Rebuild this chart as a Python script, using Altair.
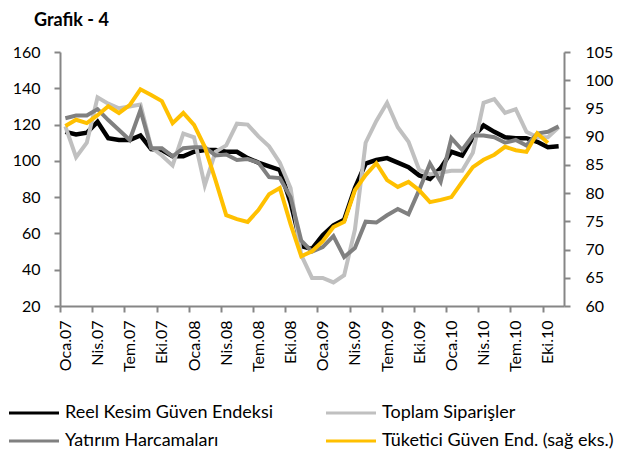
import json
import altair as alt
import pandas as pd

FONT = "Lato"

tick_labels = ["Oca.07", "Nis.07", "Tem.07", "Eki.07", "Oca.08", "Nis.08", "Tem.08", "Eki.08",
               "Oca.09", "Nis.09", "Tem.09", "Eki.09", "Oca.10", "Nis.10", "Tem.10", "Eki.10"]

S_REEL = "Reel Kesim Güven Endeksi"
S_TOP = "Toplam Siparişler"
S_YAT = "Yatırım Harcamaları"
S_TUK = "Tüketici Güven End. (sağ eks.)"

# monthly values, Jan 2007 onwards
reel = [116, 114.5, 115.5, 121.5, 112.5, 111.5, 111.5, 114, 106.5, 106, 102.5, 102.5,
        105, 106, 106, 105, 105, 101.5, 99, 97, 95, 77, 53, 51.5,
        59, 64.5, 67.5, 85, 98.5, 100.5, 101.5, 99, 96.5, 92, 90, 96,
        105, 103, 113, 119.5, 116, 113, 112.5, 112.5, 110.5, 107.5, 108]
toplam = [119, 102, 110, 135, 131.5, 129, 130, 131, 107.5, 103, 97.5, 115,
          113, 86.5, 105, 108.5, 120.5, 120, 113.5, 108, 99, 85, 48, 35.5,
          35.5, 33, 37, 62, 110, 122, 132, 118.5, 110.5, 95, 92.5, 93.5,
          94.5, 94.5, 104.5, 132, 134, 126.5, 128.5, 116, 113, 113, 118.5]
yatirim = [123.5, 125, 125, 128.5, 122.5, 117, 111.5, 128, 107, 107, 102.5, 107,
           107.5, 107.5, 103, 103.5, 100.5, 101, 99, 91, 90.5, 80, 56, 50,
           52.5, 58.5, 47, 52, 66.5, 66, 70, 73.5, 70.5, 84, 98.5, 88.5,
           112.5, 106, 114, 114, 113, 110, 111.5, 108.5, 115, 116, 119]
tuketici = [91.9, 93.0, 92.4, 93.8, 95.4, 94.2, 95.6, 98.4, 97.4, 96.3, 92.4, 94.2,
            92.1, 88.2, 82.3, 76.1, 75.4, 74.9, 77.0, 79.8, 80.9, 74.5, 68.8, 69.7,
            71.5, 74.0, 74.9, 80.5, 83.2, 85.3, 82.3, 81.1, 82.0, 80.5, 78.4, 78.8,
            79.3, 82.0, 84.6, 85.9, 86.8, 88.2, 87.6, 87.3, 90.6, 88.9]

rows = []
for name, vals in [(S_REEL, reel), (S_TOP, toplam), (S_YAT, yatirim), (S_TUK, tuketici)]:
    for i, v in enumerate(vals):
        rows.append({"i": i, "v": v, "s": name})
df = pd.DataFrame(rows)

N = 47
W, H = 504, 254
half = W / N / 2

label_expr = json.dumps(tick_labels) + "[round(datum.value / 3)]"

x_enc = alt.X(
    "i:Q",
    scale=alt.Scale(domain=[-0.5, N - 0.5], nice=False, zero=False),
    axis=alt.Axis(values=list(range(0, 46, 3)), tickOffset=-half, labelOffset=half,
                  labelExpr=label_expr, labelAngle=270, labelAlign="right",
                  labelBaseline="middle", labelPadding=8, labelFontSize=16, title=None),
)

color_enc = alt.Color(
    "s:N",
    scale=alt.Scale(domain=[S_REEL, S_YAT, S_TOP, S_TUK],
                    range=["#000000", "#808080", "#c0c0c0", "#ffc000"]),
    legend=alt.Legend(title=None, orient="none", legendX=-35, legendY=352, columns=2,
                      symbolType="M-5,0H5", symbolSize=100, symbolStrokeWidth=3,
                      labelFont=FONT, labelFontSize=18, labelColor="#000000",
                      labelOffset=22, columnPadding=46, rowPadding=10,
                      labelLimit=400),
)

y_left = alt.Y("v:Q", scale=alt.Scale(domain=[20, 160], nice=False, zero=False),
               axis=alt.Axis(values=list(range(20, 161, 20)), title=None, labelPadding=14))
y_right = alt.Y("v:Q", scale=alt.Scale(domain=[60, 105], nice=False, zero=False),
                axis=alt.Axis(values=list(range(60, 106, 5)), title=None, orient="right",
                              labelPadding=15))


def series_line(name, y, width=4):
    return alt.Chart().mark_line(strokeWidth=width, strokeJoin="miter").encode(
        x=x_enc, y=y, color=color_enc
    ).transform_filter(alt.datum.s == name)


left = alt.layer(series_line(S_REEL, y_left, 4.5), series_line(S_TOP, y_left),
                 series_line(S_YAT, y_left))
right = series_line(S_TUK, y_right)

chart = alt.layer(left, right, data=df).resolve_scale(y="independent").properties(
    width=W, height=H,
    title=alt.TitleParams("Grafik - 4", anchor="start", frame="group", dx=-26, offset=14,
                          font=FONT, fontSize=18, fontWeight="bold", color="#000000"),
    autosize=alt.AutoSizeParams(type="none"),
    padding={"left": 52, "top": 44, "right": 60, "bottom": 155},
).configure_view(stroke=None).configure_axis(
    domainColor="#868686", tickColor="#868686", domainWidth=2, tickWidth=2, tickSize=6,
    labelColor="#000000", labelFont=FONT, labelFontSize=16, grid=False,
)

chart.save("out.html", embed_options={"renderer": "svg", "actions": False})
